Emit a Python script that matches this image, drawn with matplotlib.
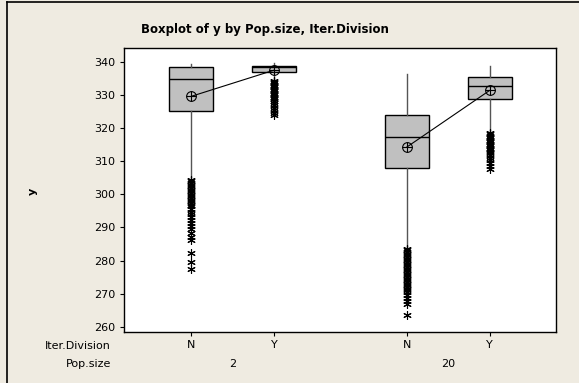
import matplotlib
matplotlib.use('Agg')
import matplotlib.pyplot as plt
from matplotlib.transforms import blended_transform_factory

# groups: Pop.size x Iter.Division
pop_size = ['2', '2', '20', '20']
iter_div = ['N', 'Y', 'N', 'Y']
pos = [1.0, 2.0, 3.6, 4.6]

# box statistics of y
q1 = [325.0, 336.9, 307.9, 328.7]
med = [334.9, 338.5, 317.4, 332.5]
q3 = [338.4, 338.6, 324.0, 335.4]
whis_lo = [305.3, 334.5, 284.2, 318.9]
whis_hi = [339.3, 339.6, 336.4, 338.8]
means = [329.5, 337.4, 314.2, 331.3]

# outliers
out_2N = [304.4, 303.9, 303.4, 302.9, 302.4, 301.9, 301.4, 300.9, 300.4, 299.9,
          299.4, 298.9, 298.4, 297.9, 297.4, 296.9, 296.4,
          295.6, 294.8, 294.0, 293.1, 292.3, 291.4, 290.5, 289.6, 288.4, 287.1, 286.2,
          282.2, 279.7, 277.4]
out_2Y = [334.2, 333.8, 333.4, 333.0, 332.6, 332.2, 331.8, 331.4, 331.0, 330.6,
          330.2, 329.8, 329.4, 329.0, 328.6, 328.2,
          327.5, 326.8, 326.1, 325.3, 324.5, 323.8]
out_20N = [283.6, 283.1, 282.6, 282.1, 281.6, 281.1, 280.6, 280.1, 279.6, 279.1,
           278.6, 278.1, 277.6, 277.1, 276.6, 276.1, 275.6, 275.1, 274.6, 274.1,
           273.6, 273.1, 272.6, 272.1, 271.6, 271.1, 270.6,
           269.7, 268.8, 267.9, 267.0, 263.6]
out_20Y = [318.5, 318.1, 317.7, 317.3, 316.9, 316.5, 316.1, 315.7, 315.3, 314.9,
           314.5, 314.1, 313.7, 313.3, 312.9, 312.5,
           311.8, 311.0, 310.2, 309.3, 308.4, 307.5]
outliers = [out_2N, out_2Y, out_20N, out_20Y]

yticks = [260, 270, 280, 290, 300, 310, 320, 330, 340]

bg = '#EFEBE1'
fig = plt.figure(figsize=(5.79, 3.83), dpi=100, facecolor=bg)
ax = fig.add_axes([0.2142, 0.1332, 0.7460, 0.7415])

stats = []
for i in range(4):
    stats.append(dict(med=med[i], q1=q1[i], q3=q3[i], whislo=whis_lo[i],
                      whishi=whis_hi[i], mean=means[i], fliers=outliers[i]))

ax.bxp(stats, positions=pos, widths=0.53, patch_artist=True, showcaps=False,
       showmeans=False,
       boxprops=dict(facecolor='#C0C0C0', edgecolor='black', linewidth=1.0),
       medianprops=dict(color='black', linewidth=1.0),
       whiskerprops=dict(color='#555555', linewidth=1.0),
       flierprops=dict(marker=(6, 2, 0), markersize=6, markeredgecolor='black',
                       markeredgewidth=0.8, linestyle='none'))

# mean symbols joined within each Pop.size group
for a, b in [(0, 1), (2, 3)]:
    ax.plot([pos[a], pos[b]], [means[a], means[b]], color='black', linewidth=0.8,
            zorder=4)
ax.plot(pos, means, linestyle='none', marker='o', markersize=7,
        markerfacecolor='none', markeredgecolor='black', markeredgewidth=0.8, zorder=5)
ax.plot(pos, means, linestyle='none', marker='+', markersize=7,
        markeredgecolor='black', markeredgewidth=0.8, zorder=5)

ax.set_xlim(0.193, 5.4)
ax.set_ylim(258.5, 344.1)
ax.set_yticks(yticks)
ax.set_xticks(pos)
ax.set_xticklabels(iter_div)
ax.tick_params(axis='both', direction='out', length=3, width=0.8,
               labelsize=8, colors='black')
ax.tick_params(axis='x', pad=3)
for s in ax.spines.values():
    s.set_linewidth(1.0)
    s.set_color('black')

# Pop.size labels centred under each group
tr = blended_transform_factory(ax.transData, fig.transFigure)
ax.text((pos[0] + pos[1]) / 2, 0.0496, pop_size[0], transform=tr,
        ha='center', va='center', fontsize=8)
ax.text((pos[2] + pos[3]) / 2, 0.0496, pop_size[2], transform=tr,
        ha='center', va='center', fontsize=8)

fig.text(0.1917, 0.0966, 'Iter.Division', ha='right', va='center', fontsize=8)
fig.text(0.1917, 0.0496, 'Pop.size', ha='right', va='center', fontsize=8)
fig.text(0.057, 0.501, 'y', rotation=90, ha='center', va='center',
         fontsize=8, fontweight='bold')
fig.text(0.4577, 0.9217, 'Boxplot of y by Pop.size, Iter.Division',
         ha='center', va='center', fontsize=8.5, fontweight='bold')

# outer frame of the graph window
fig.add_artist(plt.Line2D([0.012, 0.012], [0, 0.995], transform=fig.transFigure,
                          color='black', linewidth=1.2))
fig.add_artist(plt.Line2D([0.012, 1], [0.995, 0.995], transform=fig.transFigure,
                          color='black', linewidth=1.2))

fig.savefig('out.png', dpi=100, facecolor=bg)
